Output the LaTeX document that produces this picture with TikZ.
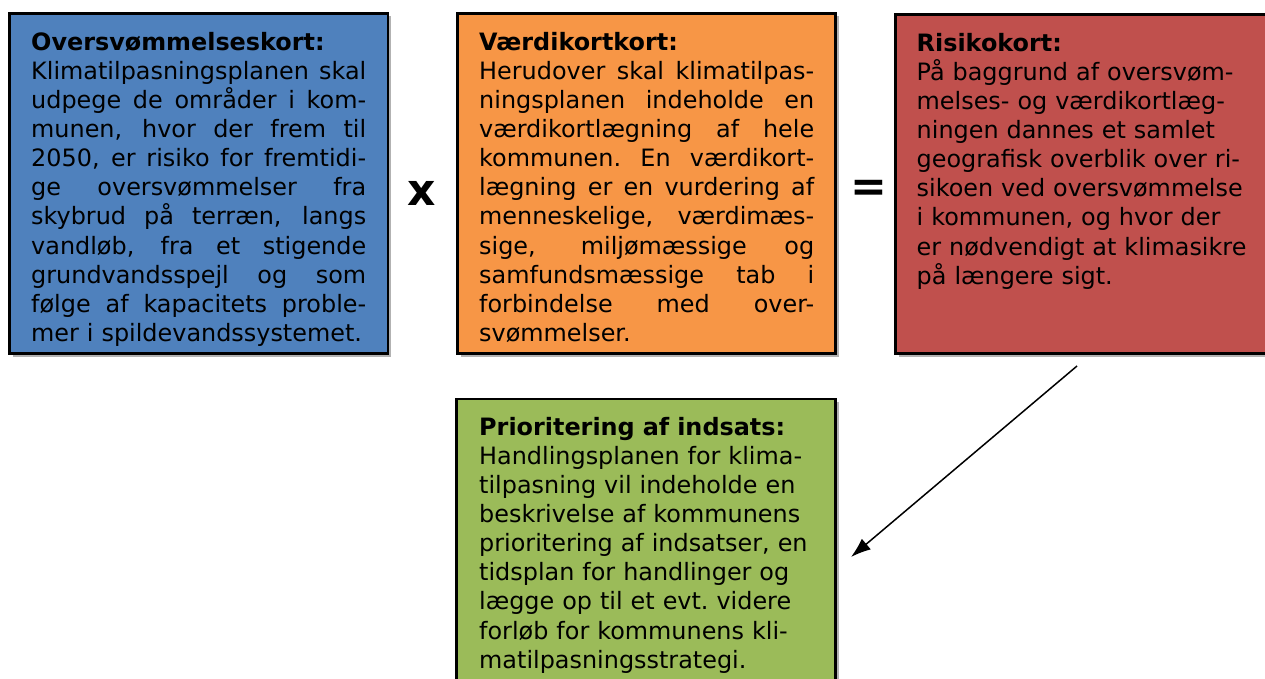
\documentclass[tikz,border=0pt]{standalone}
\usepackage{fontspec}
\setmainfont{DejaVu Sans}
\usetikzlibrary{shadows,arrows.meta}
\tikzset{>={Latex[length=20pt,width=14pt]}}
\definecolor{floodblue}{HTML}{4F81BD}
\definecolor{valueorange}{HTML}{F79646}
\definecolor{riskred}{HTML}{C0504D}
\definecolor{actiongreen}{HTML}{9BBB59}
\tikzset{
  card/.style={draw=black,line width=2.5pt,drop shadow={shadow xshift=3pt,shadow yshift=-3pt,fill=black,opacity=0.3}},
  cardtext/.style={anchor=north west,inner sep=0pt,text width=335pt,align=left,font=\fontsize{23.9}{29.1}\selectfont},
  op/.style={font=\fontsize{44}{44}\selectfont\bfseries}
}
\newcommand\jline[1]{\makebox[335pt][s]{\spaceskip=0pt\xspaceskip=0pt #1}\\}

\begin{document}
\begin{tikzpicture}[x=1pt,y=-1pt]
  \useasboundingbox (0,0) rectangle (1265,679);
  \clip (0,0) rectangle (1265,679);
  % boxes
  \draw[card,fill=floodblue] (9.5,13.5) rectangle (388,353.5);
  \draw[card,fill=valueorange] (457.5,13.5) rectangle (835.5,353.5);
  \draw[card,fill=riskred] (895.5,14.5) rectangle (1290,353.5);
  \draw[card,fill=actiongreen] (456.5,399) rectangle (835.5,720);
  % texts
  \node[cardtext] (flood) at (31,32) {\textbf{Oversvømmelseskort:}\\
    \jline{Klimatilpasningsplanen skal}
    \jline{udpege de områder i kom-}
    \jline{munen, hvor der frem til}
    \jline{2050, er risiko for fremtidi-}
    \jline{ge oversvømmelser fra}
    \jline{skybrud på terræn, langs}
    \jline{vandløb, fra et stigende}
    \jline{grundvandsspejl og som}
    \jline{følge af kapacitets proble-}
    mer i spildevandssystemet.};
  \node[cardtext] (value) at (479,32) {\textbf{Værdikortkort:}\\
    \jline{Herudover skal klimatilpas-}
    \jline{ningsplanen indeholde en}
    \jline{værdikortlægning af hele}
    \jline{kommunen.\ En værdikort-}
    \jline{lægning er en vurdering af}
    \jline{menneskelige, værdimæs-}
    \jline{sige, miljømæssige og}
    \jline{samfundsmæssige tab i}
    \jline{forbindelse med over-}
    svømmelser.};
  \node[cardtext] (risk) at (916.5,33) {\textbf{Risikokort:}\\
    På baggrund af oversvøm-\\
    melses- og værdikortlæg-\\
    ningen dannes et samlet\\
    geografisk overblik over ri-\\
    sikoen ved oversvømmelse\\
    i kommunen, og hvor der\\
    er nødvendigt at klimasikre\\
    på længere sigt.};
  \node[cardtext] (action) at (479,417) {\textbf{Prioritering af indsats:}\\
    Handlingsplanen for klima-\\
    tilpasning vil indeholde en\\
    beskrivelse af kommunens\\
    prioritering af indsatser, en\\
    tidsplan for handlinger og\\
    lægge op til et evt.\ videre\\
    forløb for kommunens kli-\\
    matilpasningsstrategi.};
  % operators
  \node[op] (times) at (422,193) {x};
  \node[op] (equals) at (869,191) {=};
  % arrow
  \coordinate (riskout) at (1077,366);
  \coordinate (actionin) at (851,557);
  \draw[->,line width=1.5pt] (riskout) -- (actionin);
\end{tikzpicture}
\end{document}
